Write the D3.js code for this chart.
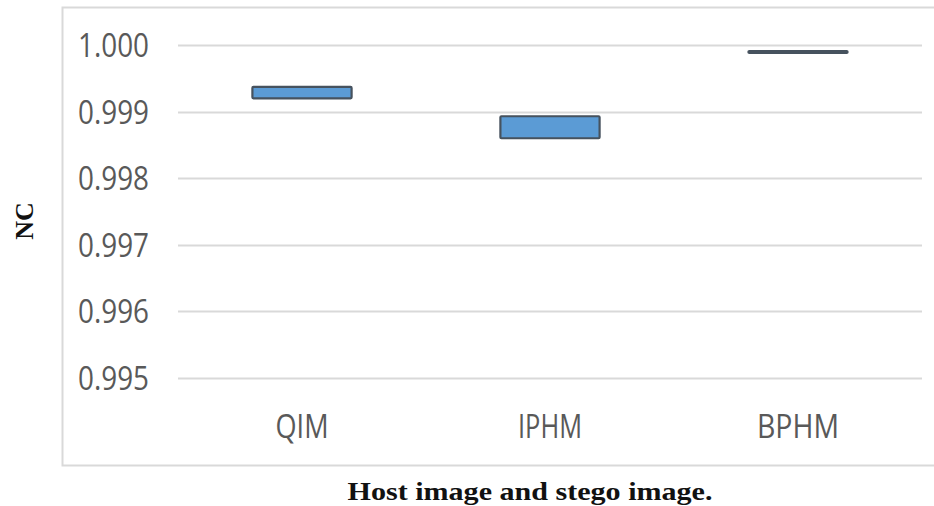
<!DOCTYPE html>
<html>
<head>
<meta charset="utf-8">
<script src="https://cdn.jsdelivr.net/npm/d3@7"></script>
<style>
  html, body { margin: 0; padding: 0; background: #ffffff; }
  svg { display: block; }
</style>
</head>
<body>
<script>
const categories = ["QIM", "IPHM", "BPHM"];
const lowValues  = [0.99920, 0.99860, 0.99988];
const highValues = [0.99937, 0.99893, 0.99991];
const yTicks = [0.995, 0.996, 0.997, 0.998, 0.999, 1.000];
const yTickLabels = ["0.995", "0.996", "0.997", "0.998", "0.999", "1.000"];
const xTitle = "Host image and stego image.";
const yTitle = "NC";

const W = 934, H = 506;
const svg = d3.select("body").append("svg").attr("width", W).attr("height", H);

// chart frame
svg.append("rect")
  .attr("x", 62.5).attr("y", 7.5)
  .attr("width", 875).attr("height", 458)
  .attr("fill", "#ffffff").attr("stroke", "#d9d9d9").attr("stroke-width", 2);

const y = d3.scaleLinear().domain([0.995, 1.000]).range([378, 45]);
const x = d3.scaleBand().domain(categories).range([178, 922]).paddingInner(0.6).paddingOuter(0.3);

// gridlines
svg.append("g").selectAll("line").data(yTicks).join("line")
  .attr("x1", 178).attr("x2", 922)
  .attr("y1", d => Math.round(y(d)) + 0.5).attr("y2", d => Math.round(y(d)) + 0.5)
  .attr("stroke", "#d9d9d9").attr("stroke-width", 2);

// y tick labels
svg.append("g").selectAll("text").data(yTicks).join("text")
  .attr("x", 149).attr("y", d => y(d) + 12)
  .attr("text-anchor", "end")
  .attr("font-family", "'Open Sans', sans-serif")
  .attr("font-size", 32)
  .attr("fill", "#595959")
  .attr("textLength", 71).attr("lengthAdjust", "spacingAndGlyphs")
  .text((d, i) => yTickLabels[i]);

// floating bars
svg.append("g").selectAll("rect").data(categories).join("rect")
  .attr("x", d => x(d))
  .attr("width", x.bandwidth())
  .attr("y", (d, i) => y(highValues[i]))
  .attr("height", (d, i) => y(lowValues[i]) - y(highValues[i]))
  .attr("fill", "#5b9bd5")
  .attr("stroke", "#46525e").attr("stroke-width", 2.2)
  .attr("rx", 1);

// category labels
const catWidths = { "QIM": 53, "IPHM": 64, "BPHM": 82 };
svg.append("g").selectAll("text").data(categories).join("text")
  .attr("x", d => x(d) + x.bandwidth() / 2)
  .attr("y", 438)
  .attr("text-anchor", "middle")
  .attr("font-family", "'Open Sans', sans-serif")
  .attr("font-size", 32)
  .attr("fill", "#595959")
  .attr("textLength", d => catWidths[d]).attr("lengthAdjust", "spacingAndGlyphs")
  .text(d => d);

// x title
svg.append("text")
  .attr("x", 530).attr("y", 500)
  .attr("text-anchor", "middle")
  .attr("font-family", "'Liberation Serif', 'Times New Roman', serif")
  .attr("font-weight", "bold")
  .attr("font-size", 26)
  .attr("fill", "#111111")
  .attr("textLength", 365).attr("lengthAdjust", "spacingAndGlyphs")
  .text(xTitle);

// y title
svg.append("text")
  .attr("transform", "translate(33,221) rotate(-90)")
  .attr("text-anchor", "middle")
  .attr("font-family", "'Liberation Serif', 'Times New Roman', serif")
  .attr("font-weight", "bold")
  .attr("font-size", 26)
  .attr("fill", "#111111")
  .text(yTitle);
</script>
</body>
</html>
